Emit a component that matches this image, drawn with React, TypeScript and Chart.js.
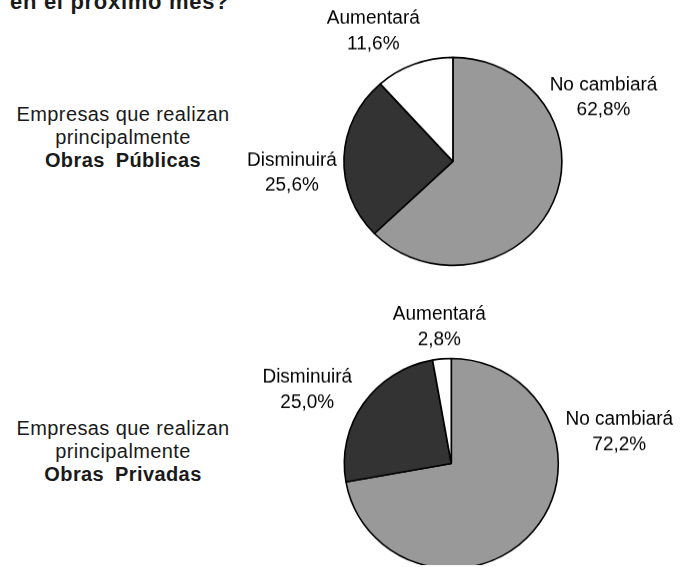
import React, { useEffect, useRef } from "react";
import { Chart, registerables } from "chart.js";

Chart.register(...registerables);

// ---- data ----
const categories = ["No cambiará", "Disminuirá", "Aumentará"];
const publicValues = [62.8, 25.6, 11.6];
const privateValues = [72.2, 25.0, 2.8];
const sliceColors = ["#999999", "#333333", "#ffffff"];
const titleText = "en el próximo mes?";
const publicCaption = ["Empresas que realizan", "principalmente", "Obras Públicas"];
const privateCaption = ["Empresas que realizan", "principalmente", "Obras Privadas"];

// ---- layout (not data) ----
// first-line baseline offsets of each slice label, relative to the pie centre
const publicLabelOffsets = [[150.6, -71.4], [-161, 4.6], [-79.6, -137.4]];
const privateLabelOffsets = [[168, -38.5], [-144, -80.5], [-12, -143.5]];

const fmt = (v: number) => v.toFixed(1).replace(".", ",") + "%";

const FONT = '"Liberation Sans", Arial, Helvetica, sans-serif';

function makeLabelPlugin(offsets: number[][], sy: number) {
  return {
    id: "sliceLabels",
    afterDraw(chart: any) {
      const ctx = chart.ctx as CanvasRenderingContext2D;
      const arc = chart.getDatasetMeta(0).data[0];
      const cx = arc.x;
      const cy = arc.y;
      ctx.save();
      ctx.fillStyle = "#000";
      ctx.font = `19px ${FONT}`;
      ctx.textAlign = "center";
      ctx.textBaseline = "alphabetic";
      (chart.data.labels as string[]).forEach((lab, i) => {
        const [dx, dy] = offsets[i];
        const v = chart.data.datasets[0].data[i] as number;
        [lab, fmt(v)].forEach((t, j) => {
          ctx.save();
          ctx.translate(cx + dx, cy + (dy + j * 25) / sy);
          ctx.scale(1, 1 / sy);
          ctx.fillText(t, 0, 0);
          ctx.restore();
        });
      });
      ctx.restore();
    },
  };
}

type PieProps = {
  values: number[];
  offsets: number[][];
  top: number;
  height: number;
  padding: { left: number; right: number; top: number; bottom: number };
  rx: number;
  ry: number;
};

function PieCanvas({ values, offsets, top, height, padding, rx, ry }: PieProps) {
  const ref = useRef<HTMLCanvasElement | null>(null);
  const sy = ry / rx;
  useEffect(() => {
    if (!ref.current) return;
    const chart = new Chart(ref.current, {
      type: "pie",
      data: {
        labels: categories,
        datasets: [
          {
            data: values,
            backgroundColor: sliceColors,
            borderColor: "#000000",
            borderWidth: 1.6,
          },
        ],
      },
      options: {
        responsive: false,
        devicePixelRatio: 1,
        animation: false,
        radius: rx,
        layout: { padding },
        plugins: {
          legend: { display: false },
          tooltip: { enabled: false },
        },
      } as any,
      plugins: [makeLabelPlugin(offsets, sy)],
    });
    return () => chart.destroy();
  }, []);
  const cxPage = (padding.left + (687 - padding.right)) / 2;
  const cyLocal = (padding.top + (height - padding.bottom)) / 2;
  return (
    <canvas
      ref={ref}
      width={687}
      height={height}
      style={{
        position: "absolute",
        left: 0,
        top,
        width: 687,
        height,
        transform: `scaleY(${sy})`,
        transformOrigin: `${cxPage}px ${cyLocal}px`,
      }}
    />
  );
}

function Caption({ lines, top }: { lines: string[]; top: number }) {
  return (
    <div
      style={{
        position: "absolute",
        left: 0,
        top,
        width: 246,
        textAlign: "center",
        fontFamily: FONT,
        fontSize: 20,
        lineHeight: "23px",
        letterSpacing: "0.4px",
        color: "#1a1a1a",
      }}
    >
      <div>{lines[0]}</div>
      <div>{lines[1]}</div>
      <div style={{ fontWeight: "bold", wordSpacing: "5px" }}>{lines[2]}</div>
    </div>
  );
}

export default function App() {
  return (
    <div
      style={{
        position: "absolute",
        left: 0,
        top: 0,
        width: 687,
        height: 567,
        overflow: "hidden",
        background: "#ffffff",
      }}
    >
      <div
        style={{
          position: "absolute",
          left: 10,
          top: -8.6,
          fontFamily: FONT,
          fontWeight: "bold",
          fontSize: 22,
          lineHeight: "22px",
          letterSpacing: "0.7px",
          color: "#1a1a1a",
          whiteSpace: "nowrap",
        }}
      >
        {titleText}
      </div>
      <Caption lines={publicCaption} top={103.3} />
      <Caption lines={privateCaption} top={416.6} />
      <PieCanvas
        values={publicValues}
        offsets={publicLabelOffsets}
        top={0}
        height={283}
        padding={{ left: 340, right: 121.2, top: 50, bottom: 10.2 }}
        rx={109}
        ry={104}
      />
      <PieCanvas
        values={privateValues}
        offsets={privateLabelOffsets}
        top={283}
        height={284}
        padding={{ left: 330, right: 114.4, top: 80, bottom: 3 }}
        rx={107}
        ry={105}
      />
    </div>
  );
}
